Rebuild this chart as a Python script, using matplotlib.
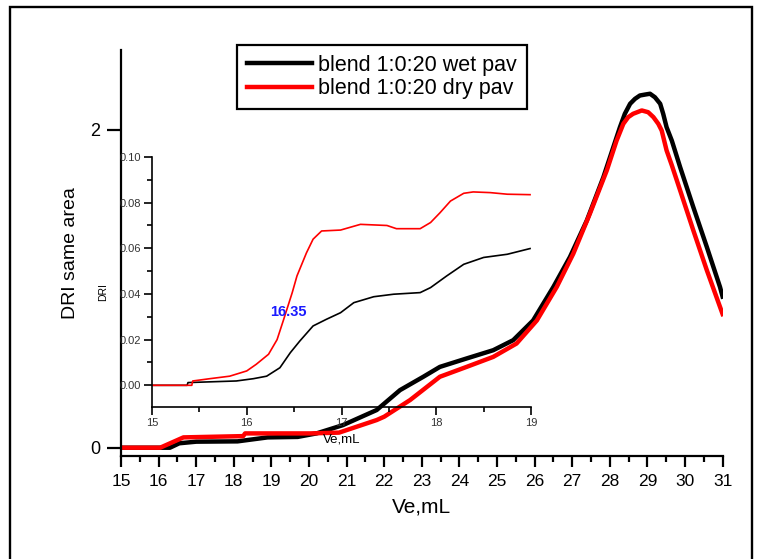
import matplotlib
matplotlib.use('Agg')
import matplotlib.pyplot as plt
from matplotlib.patches import Rectangle
from matplotlib.ticker import MultipleLocator

plt.rcParams['font.family'] = ['Liberation Sans', 'DejaVu Sans']

# main chromatograms
wet_x = [15, 16.3, 16.55, 17.0, 18.1, 18.9, 19.7, 20.2, 20.9, 21.8, 22.42, 23.04,
         23.48, 24.19, 24.9, 25.43, 25.96, 26.5, 26.94, 27.39, 27.83, 28.27, 28.40,
         28.54, 28.67, 28.8, 28.94, 29.07, 29.2, 29.34, 29.42, 29.51, 29.65, 29.87,
         30.22, 30.58, 30.93, 31]
wet_y = [0, 0, 0.028, 0.038, 0.04, 0.065, 0.068, 0.09, 0.142, 0.237, 0.362, 0.446,
         0.508, 0.561, 0.613, 0.676, 0.80, 1.011, 1.199, 1.429, 1.701, 2.015, 2.099,
         2.162, 2.193, 2.214, 2.22, 2.225, 2.203, 2.162, 2.099, 2.015, 1.93, 1.764,
         1.513, 1.262, 1.011, 0.95]

dry_x = [15, 16.04, 16.66, 18.25, 18.3, 20.03, 20.8, 21.8, 22.0, 22.69, 23.48, 24.19,
         24.9, 25.52, 26.06, 26.59, 27.03, 27.47, 27.92, 28.18, 28.36, 28.49, 28.62,
         28.85, 29.02, 29.16, 29.29, 29.38, 29.51, 29.65, 29.87, 30.22, 30.58, 31]
dry_y = [0, 0, 0.065, 0.073, 0.09, 0.09, 0.095, 0.174, 0.195, 0.30, 0.446, 0.508,
         0.571, 0.655, 0.80, 1.011, 1.220, 1.471, 1.743, 1.93, 2.036, 2.078, 2.099,
         2.120, 2.109, 2.078, 2.036, 1.994, 1.869, 1.775, 1.618, 1.367, 1.116, 0.84]

# inset (zoom on the start of elution)
in_wet_x = [15, 15.37, 15.38, 15.89, 16.07, 16.21, 16.35, 16.46, 16.56, 16.70, 16.84,
            16.99, 17.13, 17.34, 17.55, 17.83, 17.94, 18.11, 18.29, 18.50, 18.75, 18.99]
in_wet_y = [0, 0, 0.0012, 0.0019, 0.0029, 0.004, 0.0077, 0.0143, 0.0194, 0.026, 0.0289,
            0.0318, 0.0362, 0.0388, 0.0399, 0.0406, 0.0428, 0.0479, 0.053, 0.056, 0.0574, 0.0599]

in_dry_x = [15, 15.42, 15.43, 15.61, 15.82, 16.0, 16.1, 16.23, 16.32, 16.39, 16.48, 16.53,
            16.63, 16.70, 16.79, 16.99, 17.2, 17.48, 17.58, 17.83, 17.94, 18.04, 18.15,
            18.29, 18.39, 18.57, 18.75, 18.99]
in_dry_y = [0, 0, 0.0019, 0.0029, 0.004, 0.0063, 0.0092, 0.0136, 0.020, 0.0289, 0.0406, 0.0479,
            0.058, 0.064, 0.0676, 0.068, 0.0705, 0.070, 0.0686, 0.0686, 0.0713, 0.0756, 0.0807,
            0.0841, 0.0847, 0.0844, 0.0837, 0.0835]

labels = ['blend 1:0:20 wet pav', 'blend 1:0:20 dry pav']
onset_label = '16.35'

W, H = 770, 559
fig = plt.figure(figsize=(W / 100, H / 100), dpi=100)

# outer frame
fig.add_artist(Rectangle((10 / W, -0.05), 742 / W, 1 - 7 / H + 0.05,
                         transform=fig.transFigure, fill=False, lw=1.7, ec='black'))

ax = fig.add_axes([121 / W, 1 - 456 / H, (722.6 - 121) / W, (456 - 50) / H])
ax.plot(wet_x, wet_y, color='black', lw=3.2, label=labels[0])
ax.plot(dry_x, dry_y, color='red', lw=3.2, label=labels[1])
ax.set_xlim(15, 31)
ax.set_ylim(-0.052, 2.5)
for s in ['top', 'right']:
    ax.spines[s].set_visible(False)
for s in ['left', 'bottom']:
    ax.spines[s].set_linewidth(1.6)
ax.set_xticks(range(15, 32))
ax.xaxis.set_minor_locator(MultipleLocator(0.5))
ax.set_yticks([0, 2])
ax.tick_params(axis='x', which='major', length=8, width=1.6, labelsize=12.5, pad=5)
ax.tick_params(axis='x', which='minor', length=4, width=1.6)
ax.tick_params(axis='y', length=10, width=1.6, labelsize=13, pad=5)
ax.set_xlabel('Ve,mL', fontsize=15)
ax.xaxis.set_label_coords(0.5, -0.103)
ax.set_ylabel('DRI same area', fontsize=14)
ax.yaxis.set_label_coords(-0.07, 0.5)

leg = ax.legend(loc='center', bbox_to_anchor=(382 / W, 1 - 77 / H),
                bbox_transform=fig.transFigure, fontsize=15.5, fancybox=False,
                edgecolor='black', framealpha=1, handlelength=3.0,
                handletextpad=0.3, borderpad=0.45, labelspacing=0.1)
leg.get_frame().set_linewidth(1.6)

# inset
ax2 = fig.add_axes([152 / W, 1 - 407 / H, 379 / W, 250 / H])
ax2.set_facecolor('none')
ax2.plot(in_wet_x, in_wet_y, color='black', lw=1.2)
ax2.plot(in_dry_x, in_dry_y, color='red', lw=1.2)
ax2.set_xlim(15, 19)
ax2.set_ylim(-0.0095, 0.1)
for s in ['top', 'right']:
    ax2.spines[s].set_visible(False)
for s in ['left', 'bottom']:
    ax2.spines[s].set_linewidth(1.2)
ax2.set_xticks([15, 16, 17, 18, 19])
ax2.xaxis.set_minor_locator(MultipleLocator(0.5))
ax2.set_yticks([0, 0.02, 0.04, 0.06, 0.08, 0.10])
ax2.set_yticklabels(['0.00', '0.02', '0.04', '0.06', '0.08', '0.10'])
ax2.yaxis.set_minor_locator(MultipleLocator(0.01))
ax2.tick_params(which='major', length=6, width=1.2, labelsize=8, pad=2, labelcolor='#333333')
ax2.tick_params(which='minor', length=3.5, width=1.2)
ax2.set_xlabel('Ve,mL', fontsize=9.5)
ax2.xaxis.set_label_coords(0.5, -0.108)
ax2.set_ylabel('DRI', fontsize=7.5)
ax2.yaxis.set_label_coords(-0.116, 0.46)
ax2.text(16.44, 0.032, onset_label, color='#1a1aff', fontsize=10.5, fontweight='bold',
         ha='center', va='center')

fig.savefig('out.png', dpi=100)
